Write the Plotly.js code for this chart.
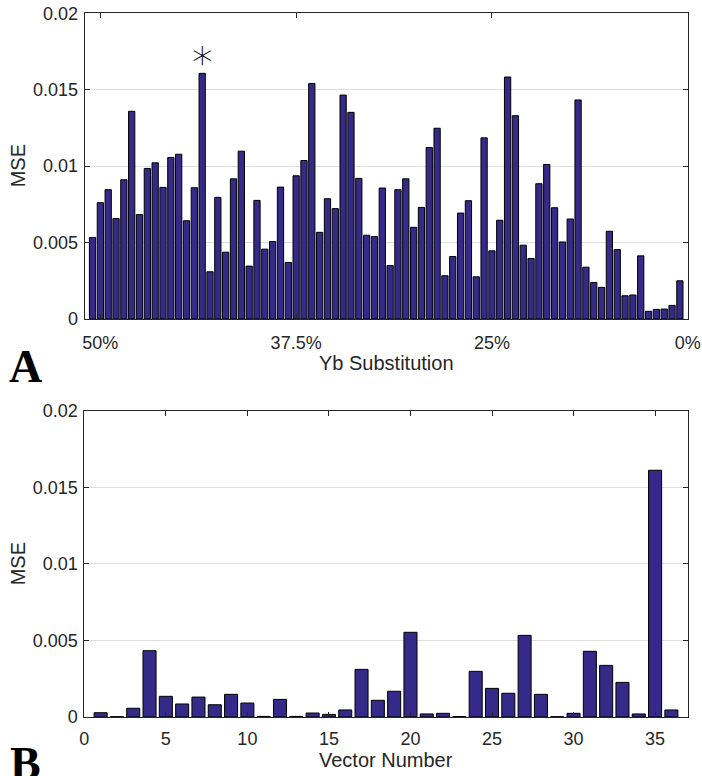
<!DOCTYPE html>
<html><head><meta charset="utf-8">
<script src="https://cdn.plot.ly/plotly-3.0.1.min.js"></script>
<style>html,body{margin:0;padding:0;background:#fff}#chart{width:702px;height:776px}</style>
</head><body><div id="chart"></div>
<script>
// Panel A: MSE per substitution step (76 bars)
const substitutionMSE = [
  0.00533, 0.00761, 0.00846, 0.00657, 0.00911, 0.01359, 0.00683, 0.00985, 0.01022, 0.00861,
  0.01057, 0.01078, 0.00643, 0.00859, 0.01607, 0.00309, 0.00796, 0.00437, 0.00917, 0.01098,
  0.00346, 0.00776, 0.00457, 0.00507, 0.00863, 0.00370, 0.00937, 0.01037, 0.01541, 0.00567,
  0.00787, 0.00722, 0.01465, 0.01352, 0.00920, 0.00548, 0.00539, 0.00857, 0.00350, 0.00846,
  0.00917, 0.00600, 0.00730, 0.01122, 0.01248, 0.00283, 0.00409, 0.00693, 0.00774, 0.00276,
  0.01185, 0.00446, 0.00646, 0.01583, 0.01330, 0.00483, 0.00396, 0.00885, 0.01011, 0.00728,
  0.00504, 0.00654, 0.01433, 0.00339, 0.00239, 0.00207, 0.00574, 0.00454, 0.00152, 0.00157,
  0.00413, 0.00050, 0.00063, 0.00065, 0.00089, 0.00250
];
const substitutionTickPositions = [2, 27, 52, 77];
const substitutionTickLabels = ['50%', '37.5%', '25%', '0%'];
const markedBar = 15;

// Panel B: MSE per vector number (36 bars)
const vectorNumbers = [1,2,3,4,5,6,7,8,9,10,11,12,13,14,15,16,17,18,19,20,21,22,23,24,25,26,27,28,29,30,31,32,33,34,35,36];
const vectorMSE = [
  0.00028, 0.00002, 0.00057, 0.00433, 0.00135, 0.00085, 0.00130, 0.00080, 0.00148, 0.00091,
  0.00004, 0.00115, 0.00004, 0.00026, 0.00017, 0.00046, 0.00311, 0.00109, 0.00168, 0.00553,
  0.00020, 0.00024, 0.00003, 0.00298, 0.00187, 0.00155, 0.00533, 0.00148, 0.00002, 0.00024,
  0.00429, 0.00337, 0.00226, 0.00020, 0.01611, 0.00046
];
const vectorTickValues = [0, 5, 10, 15, 20, 25, 30, 35];

const mseTickValues = [0, 0.005, 0.01, 0.015, 0.02];
const mseTickLabels = ['0', '0.005', '0.01', '0.015', '0.02'];

const W = 702, H = 776;
const px = v => v / W;
const py = v => 1 - v / H;

const barColor = 'rgb(53,42,135)';
const axisColor = '#262626';
const font = 'Liberation Sans, Arial, Helvetica, sans-serif';

const barStyle = { color: barColor, line: { color: '#000000', width: 1 } };

const traces = [
  { type: 'bar', x: substitutionMSE.map((_, i) => i + 1), y: substitutionMSE,
    width: 0.8, marker: barStyle, xaxis: 'x', yaxis: 'y', hoverinfo: 'x+y' },
  { type: 'bar', x: vectorNumbers, y: vectorMSE,
    width: 0.8, marker: barStyle, xaxis: 'x2', yaxis: 'y2', hoverinfo: 'x+y' }
];

const common = {
  showline: true, linecolor: axisColor, linewidth: 1, mirror: 'ticks',
  ticks: 'inside', ticklen: 5, tickcolor: axisColor, tickwidth: 1,
  tickfont: { family: font, size: 18, color: axisColor },
  zeroline: false, fixedrange: true
};

const xTop = Object.assign({}, common, {
  domain: [px(84.7), px(687.7)], range: [0, 77], anchor: 'y',
  tickmode: 'array', tickvals: substitutionTickPositions, ticktext: substitutionTickLabels,
  showgrid: false, ticklabelstandoff: 7
});
const yTop = Object.assign({}, common, {
  domain: [py(319), py(13.3)], range: [0, 0.02], anchor: 'x',
  tickmode: 'array', tickvals: mseTickValues, ticktext: mseTickLabels,
  showgrid: true, gridcolor: '#dedede', gridwidth: 1, ticklabelstandoff: 2
});
const xBot = Object.assign({}, common, {
  domain: [px(84.3), px(687.7)], range: [0, 37], anchor: 'y2',
  tickmode: 'array', tickvals: vectorTickValues,
  showgrid: false, ticklabelstandoff: 5
});
const yBot = Object.assign({}, common, {
  domain: [py(717), py(410.7)], range: [0, 0.02], anchor: 'x2',
  tickmode: 'array', tickvals: mseTickValues, ticktext: mseTickLabels,
  showgrid: true, gridcolor: '#dedede', gridwidth: 1, ticklabelstandoff: 2
});

const titleFont = { family: font, size: 20, color: axisColor };
const annotations = [
  { text: 'MSE', xref: 'paper', yref: 'paper', x: px(18.3), y: py(166), textangle: -90,
    showarrow: false, xanchor: 'center', yanchor: 'middle', font: titleFont },
  { text: 'MSE', xref: 'paper', yref: 'paper', x: px(18.3), y: py(564), textangle: -90,
    showarrow: false, xanchor: 'center', yanchor: 'middle', font: titleFont },
  { text: 'Yb Substitution', xref: 'paper', yref: 'paper', x: px(386), y: py(363),
    showarrow: false, xanchor: 'center', yanchor: 'middle', font: titleFont },
  { text: 'Vector Number', xref: 'paper', yref: 'paper', x: px(386), y: py(760),
    showarrow: false, xanchor: 'center', yanchor: 'middle', font: titleFont },
  { text: '<b>A</b>', xref: 'paper', yref: 'paper', x: px(25), y: py(366),
    showarrow: false, xanchor: 'center', yanchor: 'middle',
    font: { family: 'Liberation Serif, Times New Roman, serif', size: 46, color: '#000' } },
  { text: '<b>B</b>', xref: 'paper', yref: 'paper', x: px(25), y: py(763),
    showarrow: false, xanchor: 'center', yanchor: 'middle',
    font: { family: 'Liberation Serif, Times New Roman, serif', size: 46, color: '#000' } },
  { text: '∗', xref: 'x', yref: 'y', x: markedBar, y: 0.0173,
    showarrow: false, xanchor: 'center', yanchor: 'middle',
    font: { family: 'DejaVu Sans, sans-serif', size: 42, weight: 200, color: '#000' } }
];

const layout = {
  width: W, height: H,
  margin: { l: 0, r: 0, t: 0, b: 0, pad: 0 },
  paper_bgcolor: '#ffffff', plot_bgcolor: '#ffffff',
  showlegend: false, bargap: 0,
  xaxis: xTop, yaxis: yTop, xaxis2: xBot, yaxis2: yBot,
  annotations: annotations
};

Plotly.newPlot('chart', traces, layout, { staticPlot: true, displayModeBar: false });
</script>
</body></html>
